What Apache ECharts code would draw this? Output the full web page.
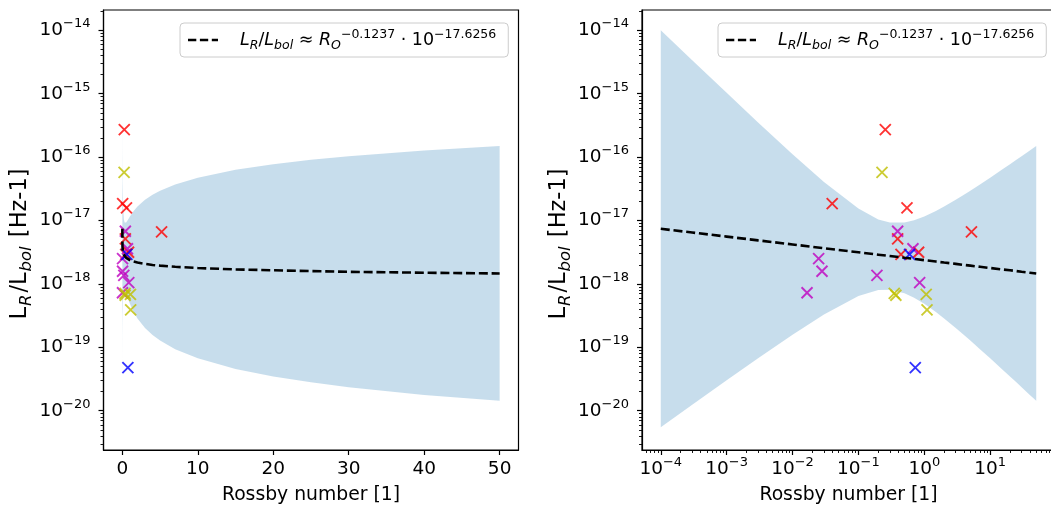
<!DOCTYPE html>
<html><head><meta charset="utf-8">
<script src="https://cdn.jsdelivr.net/npm/echarts@6/dist/echarts.min.js"></script>
<style>html,body{margin:0;padding:0;background:#fff}#c{width:1051px;height:510px}</style>
</head><body><div id="c"></div><script>
// ---- data ----
const sampleX   = [1e-4,3e-4,1e-3,3e-3,0.01,0.03,0.1,0.2,0.3,0.5,0.7,1,1.5,2,3,4,5,7,10,15,20,25,30,40,50];
const fitY      = [7.40e-18,6.46e-18,5.57e-18,4.86e-18,4.19e-18,3.65e-18,3.15e-18,2.89e-18,2.75e-18,2.58e-18,2.48e-18,2.37e-18,2.25e-18,2.17e-18,2.07e-18,1.99e-18,1.94e-18,1.86e-18,1.78e-18,1.69e-18,1.64e-18,1.59e-18,1.55e-18,1.50e-18,1.46e-18];
const bandUpper = [9.98e-15,3.37e-15,1.03e-15,3.52e-16,1.11e-16,4.06e-17,1.54e-17,1.04e-17,9.31e-18,9.33e-18,1.01e-17,1.16e-17,1.41e-17,1.66e-17,2.12e-17,2.55e-17,2.95e-17,3.71e-17,4.73e-17,6.30e-17,7.71e-17,9.04e-17,1.03e-16,1.27e-16,1.49e-16];
const bandLower = [5.48e-21,1.24e-20,3.01e-20,6.70e-20,1.57e-19,3.29e-19,6.44e-19,8.00e-19,8.11e-19,7.14e-19,6.05e-19,4.84e-19,3.59e-19,2.84e-19,2.01e-19,1.56e-19,1.28e-19,9.35e-20,6.71e-20,4.56e-20,3.47e-20,2.80e-20,2.34e-20,1.77e-20,1.43e-20];
const redPts     = [[0.256,2.71e-16],[0.040,1.85e-17],[0.546,1.58e-17],[0.394,5.13e-18],[0.82,3.16e-18],[0.443,2.92e-18],[5.2,6.6e-18]];
const magentaPts = [[0.394,6.76e-18],[0.673,3.58e-18],[0.191,1.36e-18],[0.85,1.05e-18],[0.0249,2.51e-18],[0.028,1.58e-18],[0.0166,7.24e-19]];
const yellowPts  = [[0.228,5.75e-17],[0.35,7.08e-19],[0.37,6.61e-19],[1.07,6.84e-19],[1.1,3.89e-19]];
const bluePts    = [[0.598,2.92e-18],[0.73,4.79e-20]];
const linearXTicks = [0,10,20,30,40,50];
const xDecades = [-4,-3,-2,-1,0,1];
const yDecades = [-20,-19,-18,-17,-16,-15,-14];
const fitName = 'fit';

// ---- helpers ----
const lg = Math.log10;
const FONT = 'DejaVu Sans';
function minorTicks(lo, hi){const out=[];for(let n=Math.floor(lo)-1;n<=Math.ceil(hi);n++){for(let k=2;k<=9;k++){const v=n+lg(k);if(v>lo&&v<hi)out.push(v);}}return out;}
const powLabel = v => { const n=Math.round(v); return '{b|10}{s|' + (n<0?'\u2212'+(-n):n) + '}'; };
const powRich = {
  b:{fontSize:18.5,fontFamily:FONT,color:'#000',lineHeight:26},
  s:{fontSize:13,fontFamily:FONT,color:'#000',lineHeight:12,verticalAlign:'top'}
};
const Y_MIN=-20.62, Y_MAX=-13.68, XR_MIN=-4.285, XR_MAX=1.984;
const black={color:'#000',width:1.2};
const nameStyle={fontSize:18.8,fontFamily:FONT,color:'#000'};
const yNameStyle={fontSize:22.5,fontFamily:FONT,color:'#000',lineHeight:30,padding:[0,28,0,0],
  rich:{s:{fontSize:16.5,fontFamily:FONT,fontStyle:'italic',color:'#000',lineHeight:15,verticalAlign:'bottom',padding:[0,2,0,1]}}};
const yName='L{s|R}/L{s|bol} [Hz-1]';

function majorY(grid){return {type:'value',gridIndex:grid,position:'left',min:Y_MIN,max:Y_MAX,
  axisLine:{show:true,onZero:false,lineStyle:black},splitLine:{show:false},
  axisTick:{show:true,customValues:yDecades,length:5,lineStyle:black},
  axisLabel:{show:true,customValues:yDecades,formatter:powLabel,rich:powRich,margin:13,color:'#000'},
  name:yName,nameLocation:'middle',nameGap:64,nameTextStyle:yNameStyle};}
function minorY(grid){return {type:'value',gridIndex:grid,position:'left',min:Y_MIN,max:Y_MAX,
  axisLine:{show:false,onZero:false},splitLine:{show:false},axisLabel:{show:false},
  axisTick:{show:true,customValues:minorTicks(Y_MIN,Y_MAX),length:3,lineStyle:{color:'#000',width:0.9}}};}

function scatter(name,pts,color,xi,yi,logx){
  return {type:'scatter',name:name,xAxisIndex:xi,yAxisIndex:yi,z:3,
    symbol:'path://M0,0L10,10M10,0L0,10',symbolSize:11,
    itemStyle:{color:'transparent',borderColor:color,borderWidth:1.9},
    data:pts.map(p=>[logx?lg(p[0]):p[0],lg(p[1])])};
}
function panel(xi,yi,logx){
  const X = x => logx?lg(x):x;
  return [
    {type:'custom',name:'band',xAxisIndex:xi,yAxisIndex:yi,z:1,silent:true,clip:true,data:[[X(sampleX[0]),lg(fitY[0])]],
      renderItem:(params,api)=>{
        const up=sampleX.map((x,i)=>api.coord([X(x),lg(bandUpper[i])]));
        const lo=sampleX.map((x,i)=>api.coord([X(x),lg(bandLower[i])])).reverse();
        return {type:'polygon',shape:{points:up.concat(lo)},style:{fill:'rgba(31,119,180,0.25)',stroke:null}};
      }},
    scatter('r',redPts,'#ff0000',xi,yi,logx),
    scatter('m',magentaPts,'#bf00bf',xi,yi,logx),
    scatter('y',yellowPts,'#bfbf00',xi,yi,logx),
    scatter('b',bluePts,'#0000ff',xi,yi,logx),
    {type:'line',name:fitName,xAxisIndex:xi,yAxisIndex:yi,symbol:'none',z:4,
      lineStyle:{color:'#000',width:2.6,type:[9,3.8]},itemStyle:{color:'#000'},
      data:sampleX.map((x,i)=>[X(x),lg(fitY[i])])}
  ];
}
const legendRich={
  sp:{width:17},
  i:{fontSize:17.5,fontFamily:FONT,fontStyle:'italic',color:'#000',lineHeight:24},
  n:{fontSize:17.5,fontFamily:FONT,color:'#000',lineHeight:24},
  is:{fontSize:12.5,fontFamily:FONT,fontStyle:'italic',color:'#000',lineHeight:13,verticalAlign:'bottom'},
  sup:{fontSize:12.5,fontFamily:FONT,color:'#000',lineHeight:13,verticalAlign:'top'}
};
const legendText='{sp| }{i|L}{is|R}{n|/}{i|L}{is|bol}{n| \u2248 }{i|R}{is|O}{sup|\u22120.1237}{n| \u00b7 10}{sup|\u221217.6256}';
const dashIcon='path://M0,0h8.3v2.6h-8.3z M11.9,0h8.3v2.6h-8.3z M23.8,0h6.2v2.6h-6.2z';
function legend(left){return {left:left,top:23,orient:'horizontal',data:[{name:fitName,icon:dashIcon}],
  formatter:()=>legendText,textStyle:{fontSize:17.5,fontFamily:FONT,color:'#000',rich:legendRich},
  itemWidth:30,itemHeight:2.6,padding:[5,12,5,8],
  backgroundColor:'rgba(255,255,255,0.8)',borderColor:'#cccccc',borderWidth:1,borderRadius:4,selectedMode:false};}

const chart=echarts.init(document.getElementById('c'),null,{renderer:'canvas'});
chart.setOption({
  animation:false,backgroundColor:'#fff',
  grid:[
    {left:103.5,top:10,width:415,height:440,show:true,borderColor:'#000',borderWidth:1.2,backgroundColor:'transparent',outerBoundsMode:'none',containLabel:false},
    {left:642,top:10,width:413,height:440,show:true,borderColor:'#000',borderWidth:1.2,backgroundColor:'transparent',outerBoundsMode:'none',containLabel:false}
  ],
  legend:[legend(180),legend(718)],
  xAxis:[
    {type:'value',gridIndex:0,position:'bottom',min:-2.5,max:52.5,
      axisLine:{show:true,onZero:false,lineStyle:black},splitLine:{show:false},
      axisTick:{show:true,customValues:linearXTicks,length:5,lineStyle:black},
      axisLabel:{show:true,customValues:linearXTicks,fontSize:18.5,fontFamily:FONT,color:'#000',margin:10},
      name:'Rossby number [1]',nameLocation:'middle',nameGap:36,nameTextStyle:nameStyle},
    {type:'value',gridIndex:1,position:'bottom',min:XR_MIN,max:XR_MAX,
      axisLine:{show:true,onZero:false,lineStyle:black},splitLine:{show:false},
      axisTick:{show:true,customValues:xDecades,length:5,lineStyle:black},
      axisLabel:{show:true,customValues:xDecades,formatter:powLabel,rich:powRich,margin:6,color:'#000'},
      name:'Rossby number [1]',nameLocation:'middle',nameGap:36,nameTextStyle:nameStyle},
    {type:'value',gridIndex:1,position:'bottom',min:XR_MIN,max:XR_MAX,
      axisLine:{show:false,onZero:false},splitLine:{show:false},axisLabel:{show:false},
      axisTick:{show:true,customValues:minorTicks(XR_MIN,XR_MAX),length:3,lineStyle:{color:'#000',width:0.9}}}
  ],
  yAxis:[majorY(0),minorY(0),majorY(1),minorY(1)],
  series:[...panel(0,0,false),...panel(1,2,true)]
});
</script></body></html>
